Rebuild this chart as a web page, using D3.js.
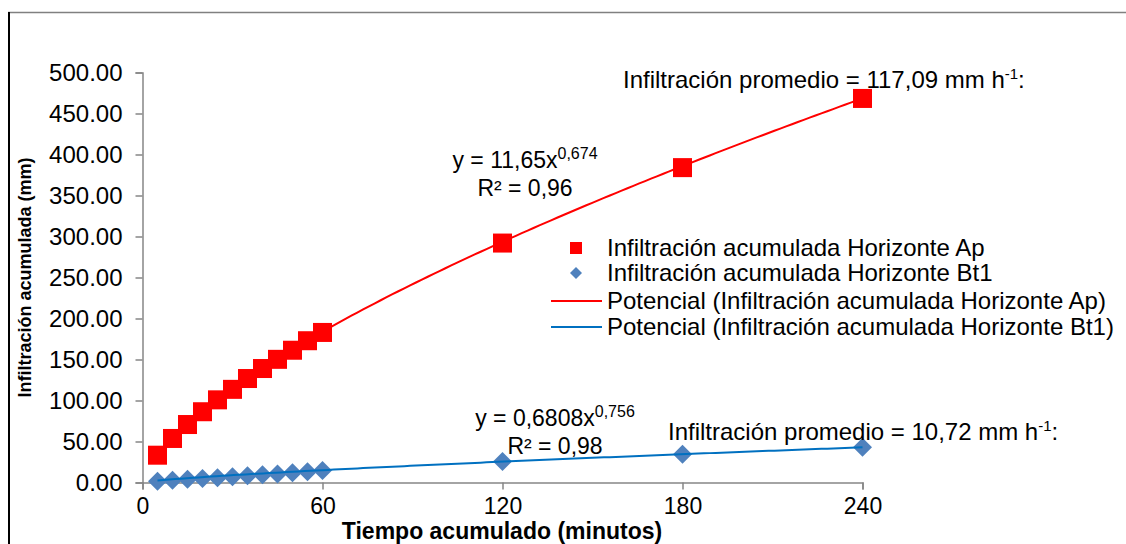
<!DOCTYPE html>
<html>
<head>
<meta charset="utf-8">
<script src="https://cdn.jsdelivr.net/npm/d3@7/dist/d3.min.js"></script>
<style>
  html, body { margin: 0; padding: 0; background: #fff; }
  svg { display: block; font-family: "Liberation Sans", Arial, sans-serif; }
</style>
</head>
<body>
<svg id="chart" width="1126" height="544"></svg>
<script>
// Accumulated time (minutes)
const tiempo = [5, 10, 15, 20, 25, 30, 35, 40, 45, 50, 55, 60, 120, 180, 240];
// Accumulated infiltration (mm), horizon Ap
const infAp = [33.3, 53.7, 70.7, 86.3, 100.8, 113.6, 126.8, 139.0, 150.2, 161.3, 172.9, 183.0, 292.0, 384.0, 468.36];
// Accumulated infiltration (mm), horizon Bt1
const infBt1 = [1.5, 2.8, 3.9, 4.8, 5.9, 7.0, 8.2, 9.3, 10.5, 11.8, 13.0, 14.5, 25.5, 34.5, 42.88];
// Power trendline coefficients y = a * x^b
const potAp = [11.65, 0.674];
const potBt1 = [0.6808, 0.756];
// Axis ticks
const xTicks = [0, 60, 120, 180, 240];
const yTicks = [0, 50, 100, 150, 200, 250, 300, 350, 400, 450, 500];
// Legend entries
const legendLabels = [
  "Infiltración acumulada Horizonte Ap",
  "Infiltración acumulada Horizonte Bt1",
  "Potencial (Infiltración acumulada Horizonte Ap)",
  "Potencial (Infiltración acumulada Horizonte Bt1)"
];

const svg = d3.select("#chart");
const red = "#FF0000", blueMk = "#4F81BD", blueLn = "#0070C0", axisCol = "#868686";
const FONT = "'Liberation Sans', Arial, sans-serif";

// Outer chart frame
svg.append("line").attr("x1", 8).attr("x2", 1126).attr("y1", 12.5).attr("y2", 12.5)
  .attr("stroke", "#808080").attr("stroke-width", 1.5);
svg.append("line").attr("x1", 9).attr("x2", 9).attr("y1", 12).attr("y2", 544)
  .attr("stroke", "#000").attr("stroke-width", 2);

const x = d3.scaleLinear().domain([0, 240]).range([142.5, 862.5]);
const y = d3.scaleLinear().domain([0, 500]).range([482.5, 72.5]);

// Y axis
const yAxis = svg.append("g").attr("transform", `translate(${x(0)},0)`)
  .call(d3.axisLeft(y).tickValues(yTicks).tickFormat(d3.format(".2f")).tickSize(7).tickPadding(13));
yAxis.select(".domain").attr("stroke", axisCol).attr("stroke-width", 1.5);
yAxis.selectAll(".tick line").attr("stroke", axisCol).attr("stroke-width", 1.5);
yAxis.selectAll(".tick text").attr("fill", "#000").style("font-size", "24px").style("font-family", FONT);

// X axis
const xAxis = svg.append("g").attr("transform", `translate(0,${y(0)})`)
  .call(d3.axisBottom(x).tickValues(xTicks).tickFormat(d3.format("d")).tickSize(7).tickPadding(8));
xAxis.select(".domain").attr("stroke", axisCol).attr("stroke-width", 1.5);
xAxis.selectAll(".tick line").attr("stroke", axisCol).attr("stroke-width", 1.5);
xAxis.selectAll(".tick text").attr("fill", "#000").style("font-size", "23px").style("font-family", FONT);

// Axis titles
svg.append("text").attr("transform", `translate(31,${y(250)}) rotate(-90)`)
  .attr("text-anchor", "middle").style("font-size", "18px").style("font-weight", "bold")
  .text("Infiltración acumulada (mm)");
svg.append("text").attr("x", 502).attr("y", 539).attr("text-anchor", "middle")
  .style("font-size", "23px").style("font-weight", "bold")
  .text("Tiempo acumulado (minutos)");

// Data points
const ap = tiempo.map((t, i) => ({ t, v: infAp[i] }));
const bt = tiempo.map((t, i) => ({ t, v: infBt1[i] }));
const sq = 19, dm = 19;

svg.append("g").selectAll("rect").data(ap).join("rect")
  .attr("x", d => x(d.t) - sq / 2).attr("y", d => y(d.v) - sq / 2)
  .attr("width", sq).attr("height", sq).attr("fill", red);

const diamond = d3.symbol().type(d3.symbolSquare).size((dm / Math.SQRT2) ** 2);
svg.append("g").selectAll("path").data(bt).join("path")
  .attr("d", diamond)
  .attr("transform", d => `translate(${x(d.t)},${y(d.v)}) rotate(45)`)
  .attr("fill", blueMk);

// Power trendlines over the measured time range
const tMin = d3.min(tiempo), tMax = d3.max(tiempo);
const tSamples = d3.range(0, 121).map(i => tMin + (tMax - tMin) * i / 120);
const line = d3.line().x(d => x(d[0])).y(d => y(d[1]));
function trend(coef) { return tSamples.map(t => [t, coef[0] * Math.pow(t, coef[1])]); }
svg.append("path").attr("d", line(trend(potAp))).attr("fill", "none")
  .attr("stroke", red).attr("stroke-width", 2);
svg.append("path").attr("d", line(trend(potBt1))).attr("fill", "none")
  .attr("stroke", blueLn).attr("stroke-width", 2);

// Equation labels
function equation(cx, cy, coef, r2) {
  const t = svg.append("text").attr("x", cx).attr("y", cy).attr("text-anchor", "middle")
    .style("font-size", "23px");
  t.append("tspan").text(`y = ${String(coef[0]).replace(".", ",")}x`);
  t.append("tspan").attr("dy", -9).style("font-size", "16px").text(String(coef[1]).replace(".", ","));
  svg.append("text").attr("x", cx).attr("y", cy + 28).attr("text-anchor", "middle")
    .style("font-size", "23px").text(`R² = ${r2}`);
}
equation(525, 168, potAp, "0,96");
equation(555, 426, potBt1, "0,98");

// Average infiltration annotations (last accumulated value / 4 h)
function promedio(px, py, val) {
  const t = svg.append("text").attr("x", px).attr("y", py).style("font-size", "24px");
  t.append("tspan").text(`Infiltración promedio = ${d3.format(".2f")(val).replace(".", ",")} mm h`);
  t.append("tspan").attr("dy", -9).style("font-size", "15px").text("-1");
  t.append("tspan").attr("dy", 9).text(":");
}
promedio(623, 88, infAp[infAp.length - 1] / 4);
promedio(668, 440, infBt1[infBt1.length - 1] / 4);

// Legend
const lg = svg.append("g");
const rows = [248, 273, 301, 327];
lg.append("rect").attr("x", 570).attr("y", rows[0] - 6).attr("width", 12).attr("height", 12).attr("fill", red);
lg.append("path").attr("d", d3.symbol().type(d3.symbolSquare).size(72)())
  .attr("transform", `translate(576,${rows[1]}) rotate(45)`).attr("fill", blueMk);
lg.append("line").attr("x1", 551).attr("x2", 602).attr("y1", rows[2]).attr("y2", rows[2])
  .attr("stroke", red).attr("stroke-width", 2);
lg.append("line").attr("x1", 551).attr("x2", 602).attr("y1", rows[3]).attr("y2", rows[3])
  .attr("stroke", blueLn).attr("stroke-width", 2);
lg.selectAll("text").data(legendLabels).join("text")
  .attr("x", 607).attr("y", (d, i) => rows[i] + 8)
  .style("font-size", "24px").text(d => d);
</script>
</body>
</html>
